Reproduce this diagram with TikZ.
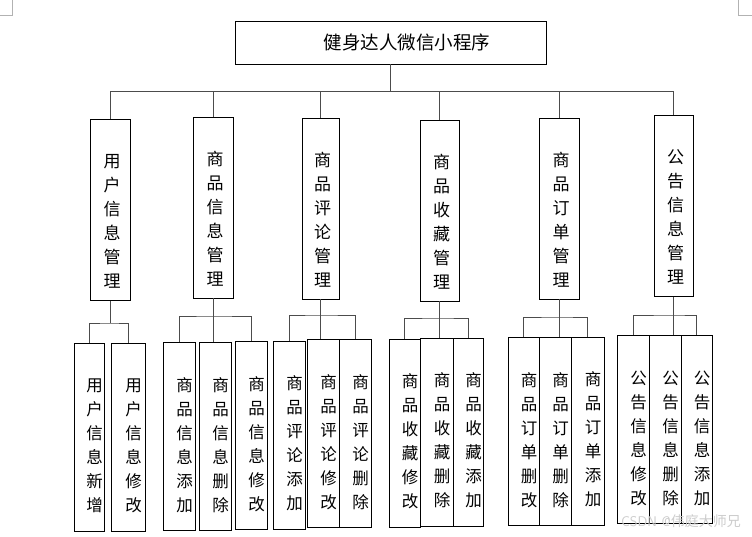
\documentclass[tikz,border=0pt]{standalone}
\usepackage{fontspec}
\newfontfamily\cjk{Noto Sans CJK SC}
\usetikzlibrary{positioning}

\tikzset{
  topbox/.style={draw, line width=0.8pt, minimum width=311pt, minimum height=43pt,
    inner sep=0pt, font=\cjk\fontsize{18.5}{20}\selectfont},
  midbox/.style={draw, line width=0.8pt, minimum height=181pt, inner sep=0pt},
  midtext/.style={inner sep=0pt, align=center, xshift=2pt, yshift=-11pt,
    font=\cjk\fontsize{17}{24}\selectfont},
  leafbox/.style={draw, line width=0.8pt, minimum height=188pt, inner sep=0pt},
  leaftext/.style={inner sep=0pt, align=center, xshift=5.5pt, yshift=-8.5pt,
    font=\cjk\fontsize{16.5}{24}\selectfont},
  link/.style={black!70, line width=0.8pt}
}

\begin{document}
\begin{tikzpicture}[x=1pt,y=-1pt]
\useasboundingbox (0,0) rectangle (752,536);

% page corner marks
\draw[gray!60] (0,15) -- (12,15) -- (12,0);
\draw[gray!60] (752,15) -- (738,15) -- (738,0);

% root
\node[topbox] (root) at (390.5,42.5) {\hspace*{33pt}健身达人微信小程序};

% the six modules
\foreach \n/\x/\y/\w/\t in {
  m1/110/210/40/{用\\户\\信\\息\\管\\理},
  m2/213/207.5/40/{商\\品\\信\\息\\管\\理},
  m3/320.5/208.5/37/{商\\品\\评\\论\\管\\理},
  m4/439.5/210.5/39/{商\\品\\收\\藏\\管\\理},
  m5/559/208.5/40/{商\\品\\订\\单\\管\\理},
  m6/673.5/206/39/{公\\告\\信\\息\\管\\理}}
  \node[midbox, minimum width=\w pt, label={[midtext]center:{\t}}] (\n) at (\x,\y) {};

% the functions under each module
\foreach \n/\x/\y/\w/\t in {
  a1/89/437/30/{用\\户\\信\\息\\新\\增},
  a2/128/437/34/{用\\户\\信\\息\\修\\改},
  b1/179/436.5/32/{商\\品\\信\\息\\添\\加},
  b2/215/436.5/32/{商\\品\\信\\息\\删\\除},
  b3/251/435.5/32/{商\\品\\信\\息\\修\\改},
  c1/289/435/32/{商\\品\\评\\论\\添\\加},
  c2/323/433.5/32/{商\\品\\评\\论\\修\\改},
  c3/355/433.5/32/{商\\品\\评\\论\\删\\除},
  d1/404.5/433/31/{商\\品\\收\\藏\\修\\改},
  d2/436.5/432/33/{商\\品\\收\\藏\\删\\除},
  d3/468/432/30/{商\\品\\收\\藏\\添\\加},
  e1/523.5/431.5/31/{商\\品\\订\\单\\删\\改},
  e2/555/431.5/32/{商\\品\\订\\单\\删\\除},
  e3/587.5/431/33/{商\\品\\订\\单\\添\\加},
  f1/633/429.5/32/{公\\告\\信\\息\\修\\改},
  f2/665/429.5/32/{公\\告\\信\\息\\删\\除},
  f3/696.5/429.5/31/{公\\告\\信\\息\\添\\加}}
  \node[leafbox, minimum width=\w pt, label={[leaftext]center:{\t}}] (\n) at (\x,\y) {};

% levels of the joining bars
\coordinate (bar0) at (0,91);
\coordinate (bar1) at (0,323);
\coordinate (bar2) at (0,316);
\coordinate (bar3) at (0,315);
\coordinate (bar4) at (0,318);
\coordinate (bar5) at (0,317);
\coordinate (bar6) at (0,315);

% root to modules
\draw[link] (root.south) -- (root.south |- bar0);
\draw[link] (m1.north) |- (m6.north |- bar0) -- (m6.north);
\foreach \n in {m2,m3,m4,m5}
  \draw[link] (\n.north) -- (\n.north |- bar0);

% modules to functions
\draw[link] (m1.south) -- (m1.south |- bar1);
\draw[link] (a1.north) |- (m1.south |- bar1) -| (a2.north);
\foreach \g/\l/\c/\r/\b in {m2/b1/b2/b3/bar2, m3/c1/c2/c3/bar3,
  m4/d1/d2/d3/bar4, m5/e1/e2/e3/bar5, m6/f1/f2/f3/bar6}
{
  \draw[link] (\l.north) |- (\g.south |- \b) -| (\r.north);
  \draw[link] (\g.south) -- (\g.south |- \c.north);
}

\node[text=gray!40, font=\sffamily\fontsize{14}{14}\selectfont] (mark) at (681,521)
  {CSDN @{\cjk 伟庭大师兄}};

\end{tikzpicture}
\end{document}
